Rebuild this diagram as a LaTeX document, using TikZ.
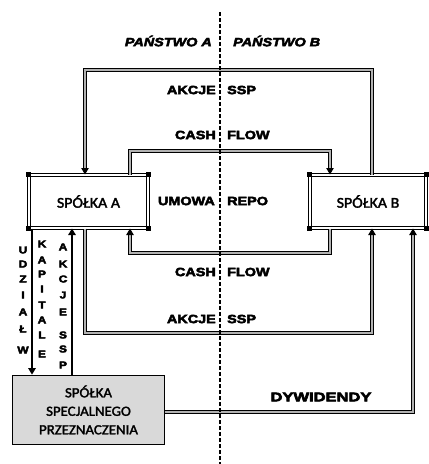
\documentclass[tikz,border=0pt]{standalone}
\usepackage{fontspec}
\usetikzlibrary{arrows.meta}
\newfontfamily\labfont[FakeStretch=1.2, FakeBold=4, BoldFeatures={FakeBold=4}]{Liberation Sans}
\newfontfamily\dywfont[FakeStretch=1.32, FakeBold=5, BoldFeatures={FakeBold=5}]{Liberation Sans}
\newfontfamily\boxfont[FakeStretch=1.06, FakeBold=2]{Carlito}
\begin{document}
\begin{tikzpicture}[x=1pt,y=-1pt,
  conn/.style={draw=black, line width=0.95pt, double=gray!60, double distance=1.9pt},
  arr/.style={-{Triangle[length=6.5pt,width=7.5pt]}},
  thinline/.style={draw=black, line width=1.2pt},
  lab/.style={font=\labfont\bfseries\fontsize{12}{14}\selectfont, inner sep=0pt},
  vlab/.style={font=\labfont\bfseries\fontsize{10}{11}\selectfont, inner sep=0pt},
  firm/.style={draw=black, line width=1pt, double=white, double distance=1.8pt,
    fill=white, font=\boxfont\fontsize{15}{17}\selectfont, inner sep=0pt},
  sspbox/.style={draw=black, line width=1.8pt, fill=gray!30, align=center,
    font=\boxfont\fontsize{14}{18.5}\selectfont, inner sep=0pt},
  divider/.style={draw=black, line width=1.6pt, dash pattern=on 3.5pt off 2.5pt}]
\useasboundingbox (0,0) rectangle (429,464);

% boxes
\node[firm, minimum width=119pt, minimum height=53pt] (A) at (88.5,201.5) {SPÓŁKA A};
\node[firm, minimum width=116pt, minimum height=53pt] (B) at (368,201.5) {SPÓŁKA B};
\node[sspbox, minimum width=152pt, minimum height=69pt] (SSP) at (88.5,410)
  {SPÓŁKA\\SPECJALNEGO\\PRZEZNACZENIA};

% corner blobs
\foreach \n in {A,B}{
  \foreach \c in {north west,north east,south west,south east}{
    \fill (\n.\c) ++(-2.5,-2.5) rectangle ++(5,5);
  }
}

% routing coordinates
\coordinate (tl) at (85,70);   \coordinate (tr) at (372,70);
\coordinate (itl) at (130,151); \coordinate (itr) at (330,151);
\coordinate (ibl) at (130,253); \coordinate (ibr) at (330,253);
\coordinate (bl) at (85,333);  \coordinate (br) at (372,333);
\coordinate (dr) at (413,412);
\coordinate (u1) at (32,0);    \coordinate (u2) at (72,0);

% connectors
\draw[conn,arr] (B.north -| tr) -- (tr) -- (tl) -- (A.north -| tl);
\draw[conn,arr] (A.north -| itl) -- (itl) -- (itr) -- (B.north -| itr);
\draw[conn,arr] (B.south -| ibr) -- (ibr) -- (ibl) -- (A.south -| ibl);
\draw[conn,arr] (A.south -| bl) -- (bl) -- (br) -- (B.south -| br);
\draw[conn,arr] (SSP.east |- dr) -- (dr) -- (B.south -| dr);
\draw[thinline,arr] (A.south -| u1) -- (SSP.north -| u1);
\draw[thinline,arr] (SSP.north -| u2) -- (A.south -| u2);

% labels
\node[lab, font=\labfont\bfseries\itshape\fontsize{12}{14}\selectfont, anchor=east] (pa) at (212,41) {PAŃSTWO A};
\node[lab, font=\labfont\bfseries\itshape\fontsize{12}{14}\selectfont, anchor=west] (pb) at (233,41) {PAŃSTWO B};
\node[lab, anchor=east] (l1a) at (216,90) {AKCJE};
\node[lab, anchor=west] (l1b) at (227,90) {SSP};
\node[lab, anchor=east] (l2a) at (216,135) {CASH};
\node[lab, anchor=west] (l2b) at (227,135) {FLOW};
\node[lab, anchor=east] (l3a) at (215,201) {UMOWA};
\node[lab, anchor=west] (l3b) at (227,201) {REPO};
\node[lab, anchor=east] (l4a) at (216,272) {CASH};
\node[lab, anchor=west] (l4b) at (227,272) {FLOW};
\node[lab, anchor=east] (l5a) at (216,319) {AKCJE};
\node[lab, anchor=west] (l5b) at (227,319) {SSP};
\node[lab, font=\dywfont\bfseries\fontsize{12.5}{14}\selectfont] (dyw) at (321,397) {DYWIDENDY};

% vertical letters
\foreach \l/\y [count=\i] in {U/250,D/264,Z/279,I/295,A/312,Ł/329,W/350}
  \node[vlab] (va\i) at (23,\y) {\l};
\foreach \l/\y [count=\i] in {K/244,A/260,P/274,I/289,T/305,A/320,L/335,E/354}
  \node[vlab] (vb\i) at (42,\y) {\l};
\foreach \l/\y [count=\i] in {A/247,K/264,C/279,J/295,E/312,S/335,S/349,P/365}
  \node[vlab] (vc\i) at (63,\y) {\l};

% border divider
\coordinate (dtop) at (220,12);
\coordinate (dbot) at (220,464);
\draw[divider] (dtop) -- (dbot);
\end{tikzpicture}
\end{document}
